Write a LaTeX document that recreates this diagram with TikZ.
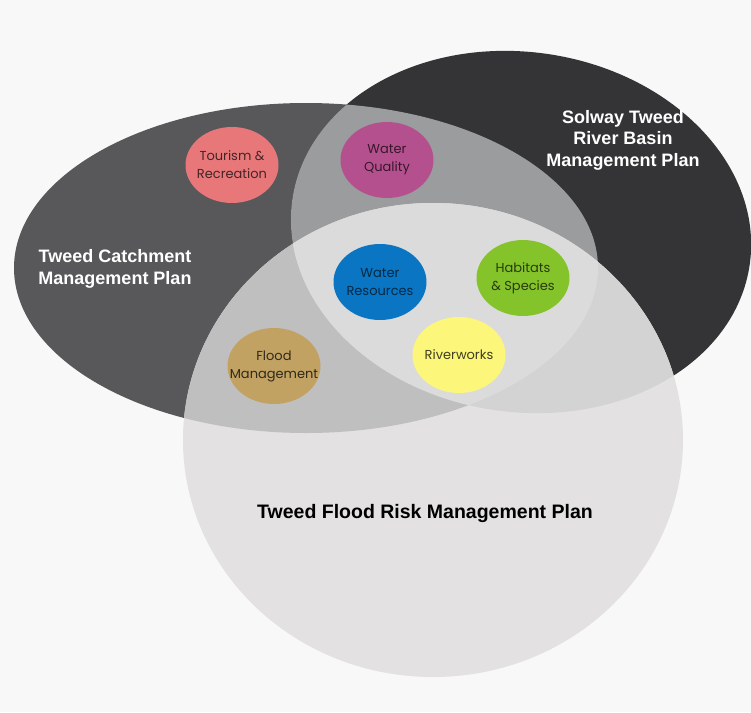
\documentclass[tikz,border=0pt]{standalone}
\usepackage{fontspec}
\setmainfont{Liberation Sans}
\newfontfamily\gothic{Poppins}
\usetikzlibrary{shapes.geometric}
\definecolor{bg}{HTML}{F8F8F8}
\definecolor{cL}{HTML}{58585A}
\definecolor{cR}{HTML}{343436}
\definecolor{cLR}{HTML}{9A9C9E}
\definecolor{cB}{HTML}{E3E1E2}
\definecolor{cBL}{HTML}{C0BFC0}
\definecolor{cBR}{HTML}{D3D3D3}
\definecolor{cBLR}{HTML}{DCDBDB}
\definecolor{salmon}{HTML}{E8777A}
\definecolor{magenta}{HTML}{B5508F}
\definecolor{blueC}{HTML}{0A75C2}
\definecolor{greenC}{HTML}{84C42A}
\definecolor{yellowC}{HTML}{FCF77A}
\definecolor{goldC}{HTML}{C2A263}
\tikzset{
  RE/.style={rotate around={-8:(521,232)}},
  pill/.style={ellipse, minimum width=93pt, minimum height=76pt, inner xsep=-30pt, inner ysep=-10pt,
    font=\gothic\fontsize{13}{18}\selectfont, align=center},
  biglabel/.style={font=\bfseries\fontsize{18}{21.5}\selectfont, align=center, inner sep=0pt}
}
\begin{document}
\begin{tikzpicture}[x=1pt,y=-1pt]
\fill[bg] (0,0) rectangle (751,712);
\useasboundingbox (0,0) rectangle (751,712);
% left ellipse
\fill[cL] (306,268) ellipse [x radius=292, y radius=165];
% right ellipse
\fill[cR,RE] (521,232) ellipse [x radius=231, y radius=180];
\begin{scope}
  \clip (306,268) ellipse [x radius=292, y radius=165];
  \fill[cLR,RE] (521,232) ellipse [x radius=231, y radius=180];
\end{scope}
% bottom circle
\fill[cB] (433,440) ellipse [x radius=250, y radius=237];
\begin{scope}
  \clip (433,440) ellipse [x radius=250, y radius=237];
  \fill[cBL] (306,268) ellipse [x radius=292, y radius=165];
  \fill[cBR,RE] (521,232) ellipse [x radius=231, y radius=180];
  \clip (306,268) ellipse [x radius=292, y radius=165];
  \fill[cBLR,RE] (521,232) ellipse [x radius=231, y radius=180];
\end{scope}
% labels
\node[biglabel, text=white] (tcmp) at (115,269) {Tweed Catchment\\Management Plan};
\node[biglabel, text=white] (stmp) at (623,140) {Solway Tweed\\River Basin\\Management Plan};
\node[biglabel, text=black, font=\bfseries\fontsize{19.5}{23}\selectfont] (tfrmp) at (425,513) {Tweed Flood Risk Management Plan};
% topics
\node[pill, fill=salmon, text=salmon!30!black] (tour) at (232,165) {Tourism \&\\Recreation};
\node[pill, fill=magenta, text=magenta!30!black] (wq) at (387,160) {Water\\Quality};
\node[pill, fill=blueC, text=blueC!35!black] (wr) at (380,282) {Water\\Resources};
\node[pill, fill=greenC, text=greenC!30!black] (hab) at (523,278) {Habitats\\\& Species};
\node[pill, fill=yellowC, text=yellowC!25!black] (rw) at (459,355) {Riverworks};
\node[pill, fill=goldC, text=goldC!25!black] (fm) at (274,366) {Flood\\Management};
\end{tikzpicture}
\end{document}
